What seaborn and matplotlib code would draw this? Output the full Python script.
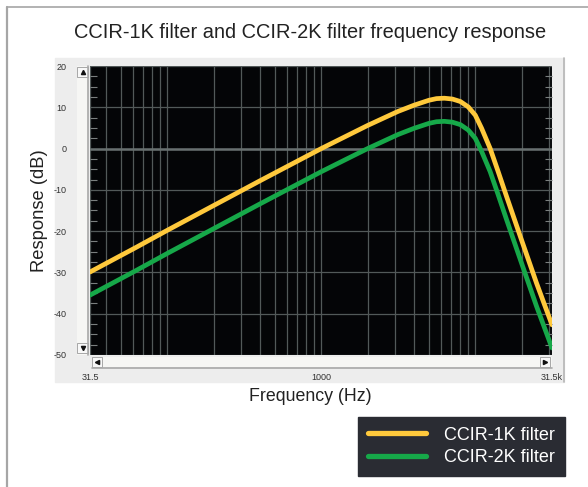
import matplotlib
matplotlib.use('Agg')
import matplotlib.pyplot as plt
import matplotlib.ticker as mticker
from matplotlib.lines import Line2D
from matplotlib.patches import Rectangle
import seaborn as sns
import pandas as pd
import numpy as np

# ====== data
freq = [31.5, 63, 100, 200, 400, 800, 1000, 2000, 3150, 4000, 5000, 5600,
        6300, 7100, 8000, 9000, 10000, 11000, 12500, 14000, 16000, 20000,
        25000, 31500]
ccir_1k = [-29.9, -23.9, -19.8, -13.8, -7.8, -1.9, 0.0, 5.6, 9.0, 10.5, 11.7,
           12.1, 12.2, 12.0, 11.4, 10.1, 8.1, 4.9, 0.0, -5.3, -11.7, -22.2,
           -32.6, -42.7]
ccir_2k = [-35.5, -29.5, -25.4, -19.4, -13.4, -7.5, -5.6, 0.0, 3.4, 4.9, 6.1,
           6.5, 6.6, 6.4, 5.8, 4.5, 2.5, -0.7, -5.6, -10.9, -17.3, -27.8,
           -38.2, -48.3]
series = ['CCIR-1K filter', 'CCIR-2K filter']
x_ticks = [31.5, 1000, 31500]
x_ticklabels = ['31.5', '1000', '31.5k']
y_ticks = [20, 10, 0, -10, -20, -30, -40, -50]

df = pd.concat([
    pd.DataFrame({'freq': freq, 'resp': ccir_1k, 'filter': series[0]}),
    pd.DataFrame({'freq': freq, 'resp': ccir_2k, 'filter': series[1]}),
])

sns.set_theme(style='white')
plt.rcParams['font.family'] = ['Liberation Sans', 'DejaVu Sans']
plt.rcParams['axes.unicode_minus'] = False

W, H = 588, 487
fig = plt.figure(figsize=(W / 100, H / 100), dpi=100)


def fx(px):
    return px / W


def fy(py):
    return 1 - py / H


# outer frame + light panel
fig.add_artist(Line2D([fx(7), fx(7)], [fy(7), 0], color='#a6a6a6', lw=1.6))
fig.add_artist(Line2D([fx(7), 1], [fy(7), fy(7)], color='#a6a6a6', lw=1.2))
fig.add_artist(Rectangle((fx(55), fy(382)), fx(564) - fx(55), fy(58) - fy(382),
                         transform=fig.transFigure, color='#ededed', zorder=0))
fig.add_artist(Line2D([fx(564), fx(564)], [fy(382), fy(58)], color='#b5b5b5', lw=1.2))

# scrollbars
fig.add_artist(Rectangle((fx(92), fy(367)), fx(552) - fx(92), fy(357) - fy(367),
                         transform=fig.transFigure, facecolor='#f6f6f4', edgecolor='none'))
fig.add_artist(Line2D([fx(92), fx(552)], [fy(367.5), fy(367.5)], color='#a8a8a8', lw=1.2))
fig.add_artist(Rectangle((fx(77), fy(355)), fx(88) - fx(77), fy(66) - fy(355),
                         transform=fig.transFigure, facecolor='#f6f6f4', edgecolor='none'))
fig.add_artist(Line2D([fx(88), fx(88)], [fy(355), fy(66)], color='#a8a8a8', lw=1.2))
for (x0, y0, x1, y1, m, mx, my) in [
        (92, 357, 102, 367, '<', 97, 362), (540, 357, 550, 367, '>', 545, 362),
        (77, 67, 88, 77, '^', 82.5, 72), (77, 343, 88, 353, 'v', 82.5, 348)]:
    fig.add_artist(Rectangle((fx(x0), fy(y1)), fx(x1) - fx(x0), fy(y0) - fy(y1),
                             transform=fig.transFigure, facecolor='#f8f8f8',
                             edgecolor='#9a9a9a', lw=0.6))
    fig.add_artist(Line2D([fx(mx)], [fy(my)], marker=m, markersize=3, color='#111111'))

ax = fig.add_axes([fx(90), fy(355), fx(552) - fx(90), fy(66) - fy(355)])
ax.set_facecolor('#040507')

sns.lineplot(data=df, x='freq', y='resp', hue='filter', palette=['#ffc93c', '#16a849'],
             linewidth=3.4, ax=ax, zorder=5, legend=True)

ax.set_xscale('log')
ax.set_xlim(31.5, 31500)
ax.set_ylim(-50, 20)
ax.set_xticks(x_ticks, x_ticklabels)
ax.xaxis.set_minor_locator(mticker.LogLocator(base=10, subs=np.arange(1, 10)))
ax.xaxis.set_minor_formatter(mticker.NullFormatter())
ax.set_yticks(y_ticks)
ax.yaxis.set_minor_locator(mticker.MultipleLocator(2.5))

ax.grid(True, which='both', axis='x', color='#525959', lw=0.9)
ax.grid(True, which='major', axis='y', color='#525959', lw=0.9)
ax.axhline(0, color='#687070', lw=1.8, zorder=1)

ax.tick_params(axis='x', which='major', length=0, pad=13, labelsize=6.5, labelcolor='#333333')
ax.tick_params(axis='x', which='minor', length=0)
ax.tick_params(axis='y', which='major', length=0, pad=17, labelsize=6.5, labelcolor='#333333')
ax.tick_params(axis='y', which='minor', direction='in', left=True, right=True,
               length=5, width=0.8, color='#7a7f7f')
for s in ax.spines.values():
    s.set_visible(False)

ax.set_xlabel('Frequency (Hz)', fontsize=12.8, color='#222222')
ax.set_ylabel('Response (dB)', fontsize=13.2, color='#222222')
ax.xaxis.set_label_coords(0.476, -0.113)
ax.yaxis.set_label_coords(-0.09, 0.5)

fig.text(fx(310), fy(32), 'CCIR-1K filter and CCIR-2K filter frequency response',
         ha='center', va='center', fontsize=14.4, color='#222222')

handles, labels = ax.get_legend_handles_labels()
ax.get_legend().remove()
for h in handles:
    h.set_linewidth(3.8)
leg = fig.legend(handles, labels, loc='lower right',
                 bbox_to_anchor=(fx(565), fy(476)), frameon=True, fancybox=False,
                 facecolor='#2a2c33', edgecolor='#2a2c33', framealpha=1,
                 fontsize=13, labelcolor='white', handlelength=3.2,
                 handletextpad=1.0, labelspacing=0.3, borderpad=0.55,
                 borderaxespad=0)

fig.savefig('out.png', dpi=100)
